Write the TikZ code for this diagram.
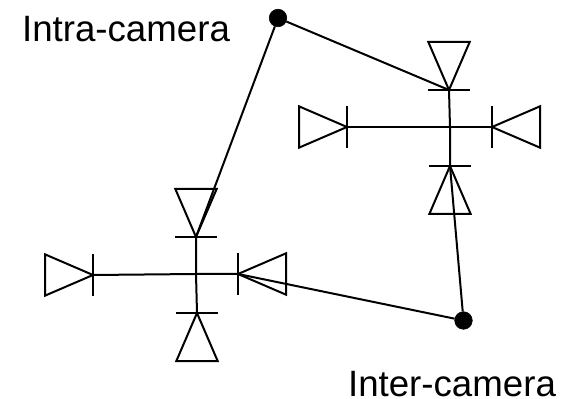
\documentclass[tikz,border=0pt]{standalone}
\usepackage{fontspec}
\setmainfont{Liberation Sans}
\tikzset{
  wire/.style={line width=1.5pt, line join=miter},
  dot/.style={shape=circle, fill=black, draw=black, inner sep=0pt, minimum size=13.2pt},
  caption/.style={inner sep=0pt, anchor=base, font=\fontsize{27.5pt}{30pt}\selectfont},
  camera/.pic={
    \draw[wire] (0,0) -- (-36pt,15.5pt) -- (-36pt,-15.5pt) -- cycle;
    \draw[wire] (0,15.5pt) -- (0,-15.5pt);
  }
}
\begin{document}
\begin{tikzpicture}[x=0.75pt, y=-0.75pt]
\useasboundingbox (0,0) rectangle (568,399);
% lower group
\coordinate (hubA) at (196,274);
\coordinate (topA) at (196,237);
\coordinate (leftA) at (93,275);
\coordinate (rightA) at (238,274);
\coordinate (bottomA) at (197,313);
\pic[rotate=-90] at (topA) {camera};
\pic at (leftA) {camera};
\pic[rotate=180] at (rightA) {camera};
\pic[rotate=90] at (bottomA) {camera};
\draw[wire] (topA) -- (hubA) -- (bottomA);
\draw[wire] (leftA) -- (hubA) -- (rightA);
% upper group
\coordinate (hubB) at (450,127);
\coordinate (topB) at (449,90);
\coordinate (leftB) at (347,127);
\coordinate (rightB) at (492,127);
\coordinate (bottomB) at (450,166);
\pic[rotate=-90] at (topB) {camera};
\pic at (leftB) {camera};
\pic[rotate=180] at (rightB) {camera};
\pic[rotate=90] at (bottomB) {camera};
\draw[wire] (topB) -- (hubB) -- (bottomB);
\draw[wire] (leftB) -- (hubB) -- (rightB);
% links
\node[dot] (intra) at (278,18) {};
\node[dot] (inter) at (463.5,320.5) {};
\draw[wire] (intra) -- (topA);
\draw[wire] (intra) -- (topB);
\draw[wire] (inter) -- (rightA);
\draw[wire] (inter) -- (bottomB);
\node[caption] (intralabel) at (126,42) {Intra-camera};
\node[caption] (interlabel) at (452,396) {Inter-camera};
\end{tikzpicture}
\end{document}
